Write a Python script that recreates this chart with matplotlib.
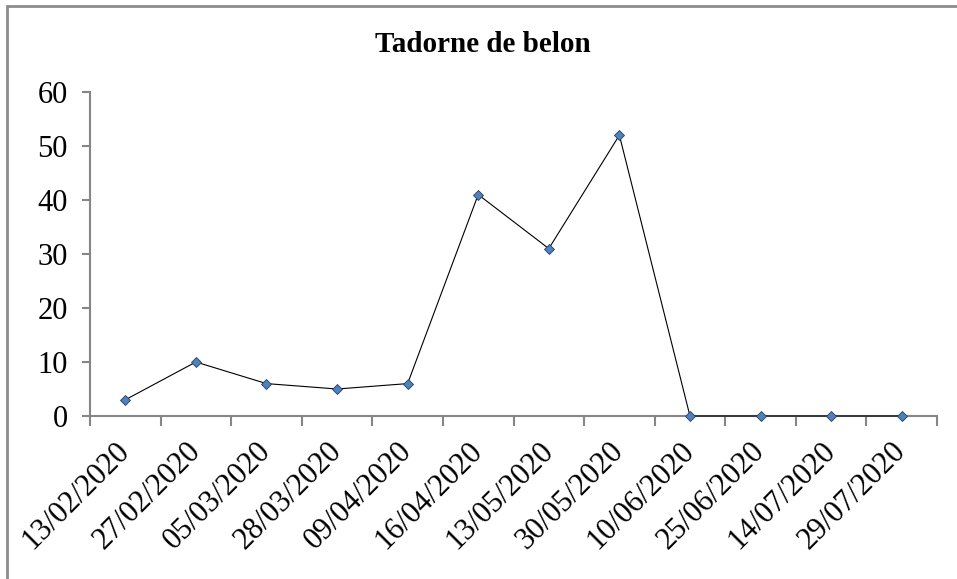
import numpy as np
import matplotlib
matplotlib.use("Agg")
import matplotlib.pyplot as plt
from matplotlib.patches import Rectangle

dates = ["13/02/2020", "27/02/2020", "05/03/2020", "28/03/2020", "09/04/2020",
         "16/04/2020", "13/05/2020", "30/05/2020", "10/06/2020", "25/06/2020",
         "14/07/2020", "29/07/2020"]
counts = [3, 10, 6, 5, 6, 41, 31, 52, 0, 0, 0, 0]
yticks = [0, 10, 20, 30, 40, 50, 60]

plt.rcParams['font.family'] = ['Liberation Serif', 'DejaVu Serif']

W, H = 957, 579
fig = plt.figure(figsize=(W / 100, H / 100), dpi=100)
fig.patch.set_facecolor('white')

# outer chart border (runs off the right and bottom edges)
fig.patches.append(Rectangle((7 / W, -0.1), 1.2, 1 - 6 / H + 0.1, transform=fig.transFigure,
                             fill=False, edgecolor='#8c8c8c', linewidth=2))

ax = fig.add_axes([90 / W, 1 - 416 / H, (937 - 90) / W, (416 - 92) / H])
x = np.arange(len(dates))
ax.plot(x, counts, color='black', linewidth=0.8, marker='D', markersize=5,
        markerfacecolor='#4F81BD', markeredgecolor='#24405f', markeredgewidth=0.6,
        clip_on=False, zorder=5)

ax.set_xlim(-0.5, len(dates) - 0.5)
ax.set_ylim(0, 60)
ax.set_yticks(yticks)
ax.set_xticks(np.arange(len(dates) + 1) - 0.5)
ax.set_xticklabels([])
ax.set_xticks(x, minor=True)
ax.set_xticklabels(dates, minor=True, rotation=45, ha='right', va='center',
                   rotation_mode='anchor')

for s in ['top', 'right']:
    ax.spines[s].set_visible(False)
for s in ['left', 'bottom']:
    ax.spines[s].set_color('#868686')
    ax.spines[s].set_linewidth(1.5)

ax.tick_params(axis='y', which='major', length=6, width=1.5, color='#868686',
               labelsize=22, pad=10)
ax.tick_params(axis='x', which='major', length=7, width=1.5, color='#868686')
ax.tick_params(axis='x', which='minor', length=0, labelsize=22, pad=22)

fig.text(483 / W, 1 - 45 / H, "Tadorne de belon", ha='center', va='center',
         fontsize=21, fontweight='bold')

fig.savefig("out.png", dpi=100)
